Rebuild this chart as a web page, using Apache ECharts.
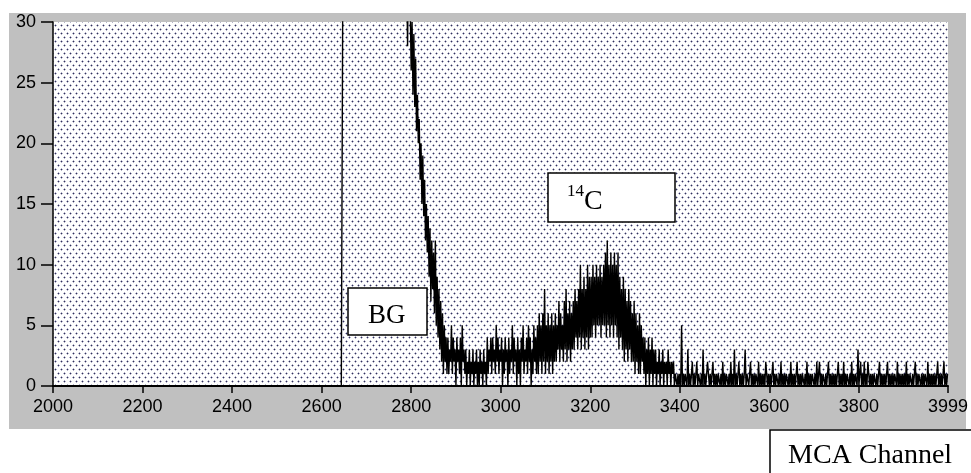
<!DOCTYPE html>
<html>
<head>
<meta charset="utf-8">
<script src="https://cdn.jsdelivr.net/npm/echarts@6/dist/echarts.min.js"></script>
<style>
  html, body { margin: 0; padding: 0; background: #fff; }
  #myChart { width: 971px; height: 473px; }
</style>
</head>
<body>
<div id="myChart"></div>
<script>
// flat zero run before the BG edge (channels)
const zeroChannels = [2000, 2644];

// 2648-2788, every 4 channels, above the 30 count scale
const offScaleStart = 2648;
const offScaleStep = 4;
const offScaleCounts = [
  41, 44, 39, 47, 43, 50, 46, 42, 48, 45,
  52, 47, 44, 49, 46, 51, 43, 48, 45, 50,
  47, 42, 46, 49, 44, 48, 41, 45, 43, 47,
  40, 44, 38, 42, 36, 39
];

// from 2792 on, every 2 channels
const denseStart = 2792;
const denseStep = 2;
// 2792-2880 falling edge
const edgeCounts = [
  28, 36, 34, 31, 26, 30, 24, 29, 23, 27,
  21, 24, 20, 22, 17, 20, 15, 19, 14, 17,
  12, 15, 11, 14, 9, 13, 7, 12, 8, 11,
  6, 12, 5, 9, 4, 8, 3, 7, 2, 6,
  1, 5, 2, 4, 1
];
// 2882-3080
const floorCounts = [
  4, 1, 3, 2, 5, 1, 4, 2, 3, 0,
  4, 2, 3, 1, 4, 0, 5, 2, 3, 1,
  3, 0, 2, 1, 3, 0, 2, 1, 3, 0,
  2, 1, 3, 0, 2, 0, 3, 1, 2, 0,
  3, 1, 2, 0, 4, 1, 3, 2, 4, 1,
  4, 2, 3, 1, 5, 2, 4, 1, 3, 2,
  4, 0, 3, 1, 4, 2, 3, 0, 4, 1,
  3, 2, 5, 1, 4, 2, 3, 0, 4, 1,
  3, 0, 4, 2, 5, 1, 3, 2, 4, 1,
  5, 2, 4, 0, 3, 1, 5, 2, 4, 1
];
// 3082-3390, 14C peak
const peakCounts = [
  5, 1, 6, 2, 5, 1, 6, 2, 8, 1,
  5, 2, 6, 1, 5, 2, 6, 1, 5, 2,
  6, 2, 5, 3, 7, 2, 6, 3, 5, 2,
  7, 3, 8, 2, 6, 3, 7, 2, 6, 3,
  7, 3, 8, 4, 7, 3, 8, 4, 10, 3,
  8, 4, 9, 3, 8, 4, 10, 3, 9, 4,
  9, 4, 10, 5, 9, 4, 10, 5, 9, 5,
  10, 4, 9, 5, 10, 5, 11, 4, 12, 5,
  10, 4, 11, 5, 10, 4, 11, 5, 10, 4,
  11, 3, 9, 4, 8, 3, 9, 2, 8, 3,
  7, 2, 8, 3, 7, 2, 6, 2, 7, 1,
  6, 2, 5, 1, 6, 1, 5, 2, 4, 1,
  4, 0, 3, 1, 4, 0, 3, 1, 4, 0,
  3, 1, 3, 0, 2, 1, 3, 0, 2, 1,
  3, 0, 2, 1, 2, 0, 3, 1, 2, 0,
  2, 1, 2, 0, 1
];
// 3392-3998 tail
const tailCounts = [
  1, 0, 1, 0, 1, 0, 5, 0, 1, 0, 1, 1, 0, 3, 0, 1,
  0, 1, 2, 0, 1, 0, 1, 2, 0, 1, 1, 0, 1, 0, 3, 0,
  1, 0, 1, 2, 1, 0, 1, 0, 1, 2, 0, 1, 0, 1, 0, 1,
  1, 0, 1, 0, 2, 0, 1, 0, 1, 1, 0, 1, 0, 2, 0, 1,
  0, 3, 0, 1, 0, 1, 2, 0, 1, 0, 1, 0, 1, 3, 0, 1,
  1, 0, 1, 2, 0, 1, 0, 1, 0, 1, 1, 0, 2, 0, 1, 0,
  1, 0, 1, 0, 2, 1, 0, 1, 0, 1, 0, 1, 2, 0, 1, 0,
  1, 1, 0, 1, 0, 2, 0, 1, 0, 1, 0, 1, 1, 0, 1, 0,
  2, 0, 1, 0, 1, 0, 1, 2, 0, 1, 0, 1, 0, 1, 1, 0,
  1, 0, 2, 0, 1, 0, 1, 0, 1, 1, 0, 1, 0, 2, 0, 1,
  2, 0, 1, 0, 1, 1, 0, 1, 0, 1, 2, 0, 1, 0, 1, 0,
  1, 0, 1, 0, 1, 2, 0, 1, 0, 1, 0, 2, 0, 1, 0, 1,
  1, 0, 1, 0, 2, 0, 1, 0, 1, 1, 0, 3, 0, 1, 2, 0,
  1, 0, 2, 0, 1, 0, 2, 1, 0, 1, 0, 1, 0, 1, 1, 0,
  1, 0, 1, 2, 0, 1, 0, 1, 0, 1, 0, 1, 2, 0, 1, 0,
  1, 0, 1, 0, 1, 1, 0, 2, 0, 1, 0, 1, 0, 1, 0, 1,
  0, 2, 0, 1, 0, 1, 1, 0, 1, 0, 1, 2, 0, 1, 0, 1,
  1, 0, 1, 0, 1, 0, 1, 1, 0, 2, 0, 1, 0, 1, 0, 1,
  0, 1, 0, 1, 2, 0, 1, 0, 1, 0, 1, 2, 0, 1, 0, 1
];
const xMin = 2000, xMax = 3999, xStep = 200;
const yMin = 0, yMax = 30, yStep = 5;

let seriesData = zeroChannels.map((c) => [c, 0]);
offScaleCounts.forEach((v, i) => seriesData.push([offScaleStart + i * offScaleStep, v]));
const denseCounts = edgeCounts.concat(floorCounts, peakCounts, tailCounts);
denseCounts.forEach((v, i) => seriesData.push([denseStart + i * denseStep, v]));

// dotted plot background
let dots = document.createElement("canvas");
dots.width = 6;
dots.height = 8;
let ctx = dots.getContext("2d");
ctx.fillStyle = "#ffffff";
ctx.fillRect(0, 0, 6, 8);
ctx.fillStyle = "#b4b4c8";
ctx.fillRect(0, 1, 3, 1);
ctx.fillRect(1, 0, 1, 3);
ctx.fillRect(3, 5, 3, 1);
ctx.fillRect(4, 4, 1, 3);
ctx.fillStyle = "#30305c";
ctx.fillRect(1, 1, 1, 1);
ctx.fillRect(4, 5, 1, 1);

const labelFont = { color: "#000", fontSize: 18, fontFamily: "Liberation Sans" };
const plainNumber = (v) => String(v);

let myChart = echarts.init(document.getElementById("myChart"), null, { renderer: "canvas" });
myChart.setOption({
  animation: false,
  backgroundColor: "#ffffff",
  grid: {
    show: true,
    left: 53,
    top: 22,
    width: 904,
    height: 364,
    borderWidth: 0,
    backgroundColor: { image: dots, repeat: "repeat" },
  },
  xAxis: {
    type: "value",
    min: xMin,
    max: xMax,
    interval: xStep,
    axisLine: { onZero: false, lineStyle: { color: "#000", width: 2 } },
    axisTick: { length: 7, lineStyle: { color: "#000", width: 1.5 } },
    axisLabel: Object.assign({ margin: 12, showMaxLabel: true, showMinLabel: true, formatter: plainNumber }, labelFont),
    splitLine: { show: false },
  },
  yAxis: {
    type: "value",
    min: yMin,
    max: yMax,
    interval: yStep,
    axisLine: { show: true, lineStyle: { color: "#000", width: 1.5 } },
    axisTick: { show: true, length: 12, lineStyle: { color: "#000", width: 1.5 } },
    axisLabel: Object.assign({ margin: 17, formatter: plainNumber }, labelFont),
    splitLine: { show: false },
  },
  graphic: [
    // grey frame around the plot
    {
      type: "rect",
      z: -10,
      silent: true,
      shape: { x: 9, y: 13, width: 957, height: 416 },
      style: { fill: "#c0c0c0" },
    },
    // BG label
    {
      type: "rect",
      z: 100,
      shape: { x: 348, y: 288, width: 79, height: 47 },
      style: { fill: "#fff", stroke: "#000", lineWidth: 1.5 },
    },
    {
      type: "text",
      z: 101,
      x: 368,
      y: 316,
      style: { text: "BG", fill: "#000", font: '27px "Liberation Serif"', verticalAlign: "middle" },
    },
    // 14C label
    {
      type: "rect",
      z: 100,
      shape: { x: 548, y: 173, width: 127, height: 49 },
      style: { fill: "#fff", stroke: "#000", lineWidth: 1.5 },
    },
    {
      type: "text",
      z: 101,
      x: 567,
      y: 192,
      style: { text: "14", fill: "#000", font: '17px "Liberation Serif"', verticalAlign: "middle" },
    },
    {
      type: "text",
      z: 101,
      x: 584,
      y: 202,
      style: { text: "C", fill: "#000", font: '28px "Liberation Serif"', verticalAlign: "middle" },
    },
    // axis caption box
    {
      type: "rect",
      z: 100,
      shape: { x: 770, y: 430, width: 230, height: 60 },
      style: { fill: "#fff", stroke: "#000", lineWidth: 1.5 },
    },
    {
      type: "text",
      z: 101,
      x: 788,
      y: 456,
      style: { text: "MCA Channel", fill: "#000", font: '28px "Liberation Serif"', verticalAlign: "middle" },
    },
  ],
  series: [
    {
      name: "counts",
      type: "line",
      data: seriesData,
      showSymbol: false,
      clip: true,
      lineStyle: { color: "#000", width: 1.4 },
      z: 3,
    },
  ],
});
</script>
</body>
</html>
